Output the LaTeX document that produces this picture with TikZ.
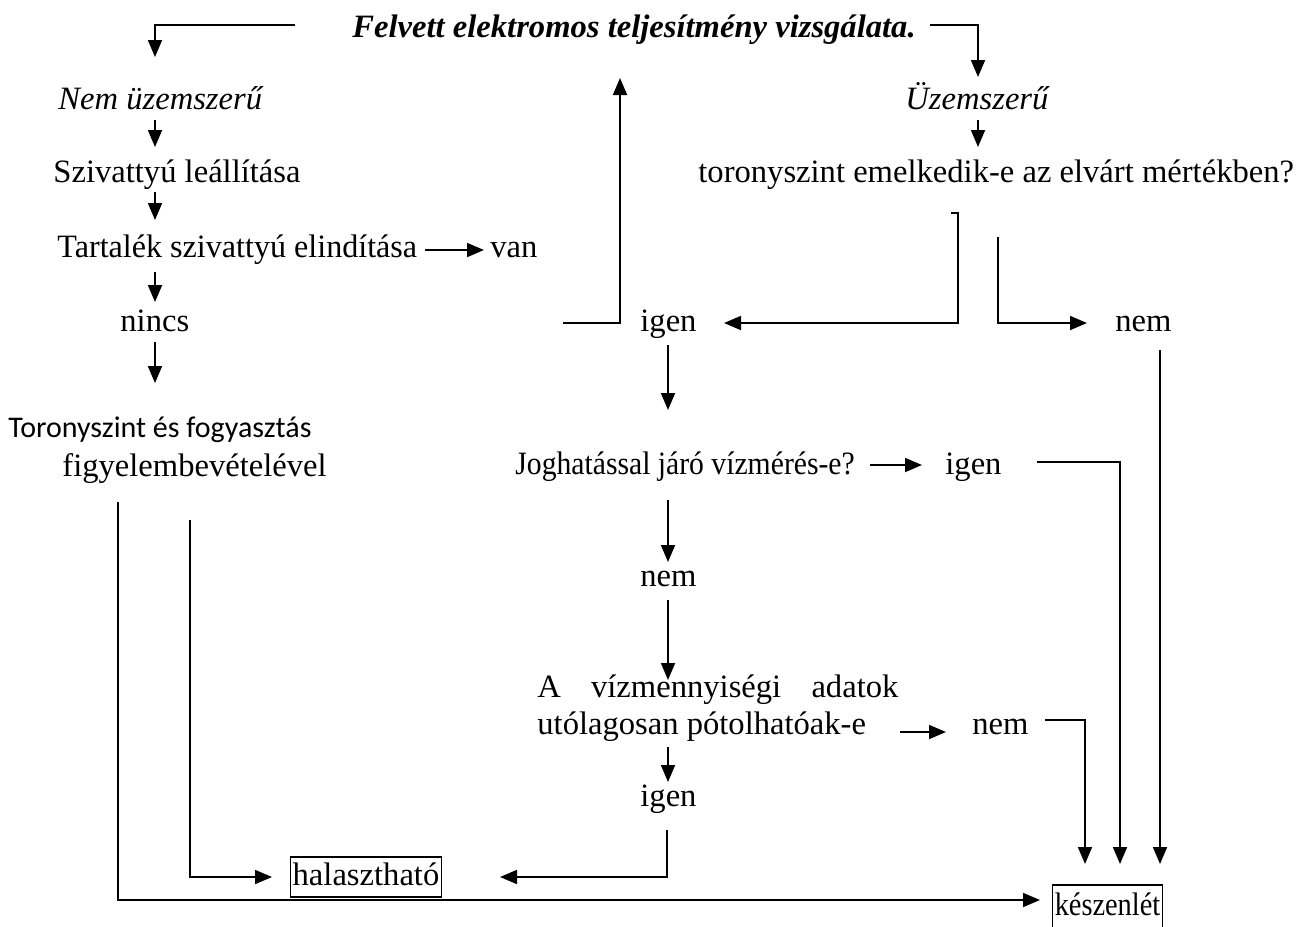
\documentclass[tikz,border=0pt]{standalone}
\usepackage{fontspec}
\setmainfont{Liberation Serif}
\newfontfamily\calfont{Carlito}
\usetikzlibrary{arrows.meta}
\newcommand\fsz{\fontsize{16.3}{19}\selectfont}
\begin{document}
\begin{tikzpicture}[x=0.5pt,y=-0.5pt,
  lbl/.style={inner sep=0pt, anchor=base west, font=\fsz},
  boxed/.style={draw, line width=0.6pt, inner xsep=1pt, inner ysep=0pt, text height=13pt, text depth=4.5pt, font=\fsz},
  arr/.style={-{Triangle[length=8.5pt,width=7pt]}, line width=0.9pt},
  ln/.style={line width=0.9pt}]
\useasboundingbox (0,0) rectangle (1297,927);

% texts
\node[lbl, font=\fsz\bfseries\itshape] (title) at (352,37) {Felvett elektromos teljesítmény vizsgálata.};
\node[lbl, font=\fsz\itshape] (nemuz) at (58,109) {Nem üzemszerű};
\node[lbl, font=\fsz\itshape] (uz) at (905,109) {Üzemszerű};
\node[lbl] (sziv) at (53,182) {Szivattyú leállítása};
\node[lbl] (torony) at (698,182) {toronyszint emelkedik-e az elvárt mértékben?};
\node[lbl] (tart) at (57,257) {\scalebox{0.985}[1]{Tartalék szivattyú elindítása}};
\node[lbl] (van) at (490,257) {van};
\node[lbl] (nincs) at (120,331) {nincs};
\node[lbl] (igen1) at (640,331) {igen};
\node[lbl] (nem1) at (1115,331) {nem};
\node[lbl, font=\fontsize{15}{18}\selectfont\calfont] (tor2) at (8,437) {Toronyszint és fogyasztás};
\node[lbl] (figy) at (62,476) {figyelembevételével};
\node[lbl] (jog) at (515,474) {\scalebox{0.91}[1]{Joghatással járó vízmérés-e?}};
\node[lbl] (igen2) at (945,474) {igen};
\node[lbl] (nem2) at (640,586) {nem};
\node[lbl, align=left, font=\fontsize{16.3}{18.5}\selectfont] (adat) at (537,734) {\makebox[180.5pt][s]{A vízmennyiségi adatok}\\utólagosan pótolhatóak-e};
\node[lbl] (nem3) at (972,734) {nem};
\node[lbl] (igen3) at (640,806) {igen};
\node[boxed, minimum width=74pt, minimum height=20pt] (hal) at (366,877) {halasztható};
\node[boxed, minimum width=52.5pt, minimum height=22pt] (kesz) at (1107.5,907) {\scalebox{0.87}[1]{készenlét}};

% free ends
\coordinate (a1) at (295,25);
\coordinate (a2) at (930,25);
\coordinate (b1) at (563,323);
\coordinate (c1) at (951,213);
\coordinate (c2) at (958,213);
\coordinate (d1) at (998,237);
\coordinate (e1) at (1037,462);
\coordinate (f1) at (1045,720);
\coordinate (g1) at (667,830);
\coordinate (h1) at (118,502);
\coordinate (h2) at (190,520);

% connectors
\draw[arr] (a1) -| (155,57);
\draw[arr] (a2) -| (978,77);
\draw[arr] (155,120) -- (155,147);
\draw[arr] (978,120) -- (978,147);
\draw[arr] (155,192) -- (155,220);
\draw[arr] (425,250) -- (484,250);
\draw[arr] (155,272) -- (155,302);
\draw[arr] (155,342) -- (155,383);
\draw[arr] (h1) |- (1040,900);
\draw[arr] (h2) |- (272,877);
\draw[arr] (b1) -| (620,78);
\draw[arr] (c1) -- (c2) -- (958,323) -- (724,323);
\draw[arr] (d1) |- (1087,323);
\draw[arr] (668,345) -- (668,410);
\draw[arr] (870,465) -- (922,465);
\draw[arr] (e1) -| (1120,864);
\draw[arr] (1160,350) -- (1160,864);
\draw[arr] (668,500) -- (668,562);
\draw[arr] (668,600) -- (668,680);
\draw[arr] (900,732) -- (946,732);
\draw[arr] (f1) -| (1085,864);
\draw[arr] (668,747) -- (668,782);
\draw[arr] (g1) |- (500,877);
\end{tikzpicture}
\end{document}
